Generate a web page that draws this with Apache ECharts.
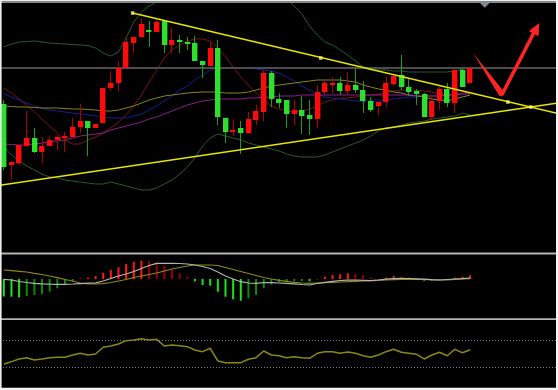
<!DOCTYPE html>
<html><head><meta charset="utf-8">
<script src="https://cdn.jsdelivr.net/npm/echarts/dist/echarts.min.js"></script>
<style>html,body{margin:0;padding:0;background:#fff;}#c{width:558px;height:390px;}</style>
</head><body><div id="c"></div>
<script>
// ---- candle data (arbitrary price units) ----
const openP  = [149,88,90,107,115,101,107,113,115,116,126,132,125,130,165,170,185,210,216,223,221,232,208,213,211,210,192,187,205,135,121,125,120,133,141,180,154,153,139,143,138,134,161,168,170,162,168,163,152,147,151,169,178,166,162,159,136,152,164,150,183,170];
const closeP = [86,91,108,115,101,107,113,116,117,126,132,125,129,165,170,185,211,216,229,221,231,208,213,211,209,192,188,205,136,121,123,120,134,142,180,154,150,139,143,137,134,161,170,170,162,168,163,152,143,151,170,177,166,161,159,136,152,164,150,183,166,185];
const lowP   = [83,73,88,106,100,90,107,103,101,116,120,97,125,130,162,162,185,200,216,206,221,200,200,200,203,192,175,187,128,110,117,99,120,128,132,146,145,125,128,119,118,125,158,160,158,158,160,140,141,138,146,167,163,157,148,136,133,143,146,140,166,170];
const highP  = [153,91,108,142,125,116,116,118,121,135,149,132,129,165,182,192,216,216,235,232,235,232,225,218,216,217,192,211,213,135,134,132,141,148,183,182,160,153,153,157,153,168,173,176,176,181,185,172,156,151,176,179,198,175,164,160,158,166,170,183,185,185];

// ---- overlays on price panel ----
const bbUpper = [206,209,211,211.5,212,211,210,209.5,209,208.5,208,207.5,205,200,197,201,215,231,241,247,251,256,262,268,274,279,283,286,288,288,286,283,279,274,269,264,259,254,247,239,227,218,211,208,203,198,192,186,183,183,183,182,182,181,181,181,181,181,181,182,184,185];
const bbLower = [106,98,92,87,83,79,76,75,73,72,71,70,69,69,71,69,67,65,63,63,65,69,73,79,86,95,107,115,119,117,115,113,110,108,106,104,102,99,97,96,96,96,98,101,104,107,110,113,117,122,125,126,128,130,131,132,134,135,136,137,140,138];
const maRed = [165,160,154,148,141,134,127,120,113,109,109,113,116,120,125,131,138,147,158,171,183,195,203,208,212,214,214,212,205,196,186,176,168,160,153,147,144,142,141,142,144,147,151,153,155,155,156,157,158,159,160,162,163,163,163,162,161,159,158,159,160,161];
const maBlue = [159,156,153,150,147,145,143,142,141,140,139,138,137,136,135,135,135,137,139,143,147,152,157,163,167,173,178,183,185,185,185,185,185,184,183,182,180,176,172,167,163,159,156,155,154,153,152,152,152,152,153,154,155,156,156,157,157,157,158,158,159,160];
const maOlive = [147,146.5,146,146,145.5,145,145,145,144.5,144,144,143.5,143,142,142,143,145,147,150,153,155,157,158,159,160,160.5,161,161,161,160,160,160,161,163,165,167,168,169,170,171,172,173,173,173,173,172,171,168,166,164,163,161,160,158,157,156,154,153,152,154,156,158];
const maPurple = [109,108.5,108,108,109,110,111,112,113,115,117,118,119,120,123,125,127,129,131,134,136,139,142,145,148,150,152,153,154,154,154,154,155,155,156,156,157,157,157,158,158,158,158,158,158,158,158,158,158,158,158,158,158,158,157.5,157,157,157,158,158,159,159];

// ---- drawn annotations: [bar index, price] ----
const trendDown = [[16.85,240],[72.5,139.6]];
const trendUp   = [[-0.5,67.7],[72.5,150.1]];
const trendDots = [[16.85,240],[41.46,195],[65.94,151],[68.93,146]];
const arrowLeft  = [[61.38,200],[65.48,160.7],[65.16,156.5],[64.83,157.3]];
const arrowRight = [[64.95,158.8],[65.36,157.2],[69.53,219.2],[69.11,220.8]];
const arrowHead  = [[70.04,230],[69.96,216.8],[68.68,221.8]];

// ---- MACD ----
const macdHist = [-17.5,-17.7,-18.3,-17,-16,-15,-12.7,-9.3,-5.3,-2.7,0.5,1.3,3,6.3,9,11.7,15,17,18.3,18,16.3,13.3,9,5.7,2.3,-2.3,-6,-6.7,-12.7,-17.7,-20.3,-21.7,-19.3,-16,-9.3,-5.5,-3,-2.7,-2.2,-2,-2.3,-0.5,2.3,4,4.7,5.7,5.3,3.7,1.5,0.3,1.3,3,2.3,1.7,0.5,-1.7,-1.3,-0.7,-1,1.3,2.3,3.7];
const macdDif = [-0.3,-1,-2.5,-3.5,-4.3,-4.8,-5.2,-5.3,-5.3,-5,-4.6,-4.2,-3.8,-2,0.5,3,5,7.5,10.5,13.5,15.7,15.7,15.7,15.5,15,14,12.5,10.5,7,3,0,-2.7,-4,-4.3,-3.5,-3.7,-4,-4.3,-4.8,-5.5,-6,-4.5,-3.3,-2.3,-1.5,-1.2,-1,-1.3,-1.7,-1,-0.2,0.3,0.6,0.5,0.2,-0.2,-0.7,-1,-0.5,0,0.4,1];
const macdDea = [9,8.4,7.7,7,5.7,4.5,3,1.4,-0.5,-2,-4,-5,-5,-4.6,-3.5,-2,-0.5,1.5,3,4.5,6,8,10,11.5,13,14,14,14,13.5,11.5,9.5,7.5,5.5,3.5,1.5,0,-1.3,-2.3,-3.3,-4,-4.3,-4,-3.7,-3.3,-3,-2.7,-2.3,-2,-1.7,-1.3,-1,-0.6,-0.3,-0.2,-0.3,-0.5,-0.8,-1,-0.8,-0.3,0,0.3];

// ---- RSI ----
const rsi = [34.4,37.9,41.9,43.8,40.4,41.9,43.8,44.4,44.4,47.8,50.3,47.8,49.3,59.2,61.1,64.1,69.0,70.0,71.9,70.0,71.0,61.1,62.6,61.6,60.1,55.2,52.7,57.7,38.9,36.4,36.4,36.4,41.4,43.8,53.7,47.8,46.7,43.8,45.3,43.8,42.9,50.3,52.7,52.7,50.3,52.2,50.3,46.7,44.4,47.8,52.7,56.2,51.8,50.3,48.8,41.9,47.8,51.8,46.7,56.2,51.2,55.6];
const rsiLevels = [70, 30];

const chart = echarts.init(document.getElementById('c'));
const idx = a => a.map((v, i) => [i, v]);
const GL = -2.24, GW = 560.64;
const XMIN = -0.5, XMAX = 72.5;

function lineS(data, color, width, g, z) {
  return {type:'line', xAxisIndex:g, yAxisIndex:g, data:idx(data), symbol:'none', silent:true,
    lineStyle:{color:color, width:width}, z:z||2, animation:false};
}

const histData = macdHist.map((v, i) => {
  const prev = i > 0 ? macdHist[i-1] : v;
  let col;
  if (v >= 0) col = v >= prev ? '#ff1a1a' : '#9a0000';
  else col = v <= prev ? '#19e619' : '#0c8a0c';
  return {value:[i, v], itemStyle:{color:col}};
});

const option = {
  backgroundColor:'#000',
  animation:false,
  grid:[
    {left:GL, width:GW, top:3, height:250},
    {left:GL, width:GW, top:256, height:60},
    {left:GL, width:GW, top:319.75, height:67.5}
  ],
  xAxis:[0,1,2].map(g => ({type:'value', gridIndex:g, min:XMIN, max:XMAX, show:false})),
  yAxis:[
    {type:'value', gridIndex:0, min:0, max:250, show:false},
    {type:'value', gridIndex:1, min:-37, max:23, show:false},
    {type:'value', gridIndex:2, min:0, max:100, show:false}
  ],
  series:[
    Object.assign(lineS(maRed, '#7d1414', 1, 0, 2), {
      markLine:{silent:true, symbol:'none', label:{show:false}, animation:false,
        lineStyle:{color:'#4c4c4c', width:2, type:'solid'},
        data:[{yAxis: closeP[closeP.length-1]}]}
    }),
    lineS(bbUpper, '#285a36', 1, 0, 2),
    lineS(bbLower, '#285a36', 1, 0, 2),
    lineS(maBlue, '#1c1c94', 1, 0, 2),
    lineS(maOlive, '#8a8420', 1, 0, 2),
    lineS(maPurple, '#8e1e8e', 1, 0, 2),
    {
      type:'custom', xAxisIndex:0, yAxisIndex:0, clip:true, z:5, silent:true,
      data: openP.map((o, i) => [i, o, closeP[i], lowP[i], highP[i]]),
      encode:{x:0, y:[1,2,3,4]},
      renderItem(params, api) {
        const i = api.value(0), o = api.value(1), c = api.value(2), l = api.value(3), h = api.value(4);
        const pO = api.coord([i, o]), pC = api.coord([i, c]), pL = api.coord([i, l]), pH = api.coord([i, h]);
        const up = c >= o;
        const cx = pO[0];
        const top = Math.min(pO[1], pC[1]);
        const ht = Math.max(1.5, Math.abs(pO[1] - pC[1]));
        const wx = Math.round(cx - 0.5) + 0.5;
        return {type:'group', children:[
          {type:'line', shape:{x1:wx, y1:pH[1], x2:wx, y2:pL[1]}, style:{stroke: up ? '#b00000' : '#18a018', lineWidth:1}},
          {type:'rect', shape:{x:Math.round(cx - 2.7), y:top, width:5.4, height:ht}, style:{fill: up ? '#ff0a0a' : '#2ee02e'}}
        ]};
      }
    },
    {type:'line', xAxisIndex:0, yAxisIndex:0, data:trendDown, symbol:'none', silent:true,
      lineStyle:{color:'#e6e600', width:1.5}, z:6},
    {type:'line', xAxisIndex:0, yAxisIndex:0, data:trendUp, symbol:'none', silent:true,
      lineStyle:{color:'#e6e600', width:1.5}, z:6},
    {type:'scatter', xAxisIndex:0, yAxisIndex:0, data:trendDots, symbol:'rect', symbolSize:3.5, silent:true,
      itemStyle:{color:'#ffff70'}, z:7},
    {
      type:'custom', xAxisIndex:0, yAxisIndex:0, clip:true, z:8, silent:true,
      data:[[0, 0]],
      renderItem(params, api) {
        const poly = pts => ({type:'polygon', shape:{points: pts.map(p => api.coord(p))}, style:{fill:'#ff2424'}});
        return {type:'group', children:[poly(arrowLeft), poly(arrowRight), poly(arrowHead)]};
      }
    },
    {type:'bar', xAxisIndex:1, yAxisIndex:1, data:histData, barWidth:2, silent:true, z:2},
    lineS(macdDif, '#b4b4b4', 1.2, 1, 4),
    lineS(macdDea, '#8c8a14', 1.2, 1, 3),
    Object.assign(lineS(rsi, '#8a8814', 1.5, 2, 3), {
      markLine:{silent:true, symbol:'none', label:{show:false}, animation:false,
        lineStyle:{color:'#777', width:1, type:[1,2]},
        data: rsiLevels.map(v => ({yAxis:v}))}
    })
  ],
  graphic:[
    {type:'rect', z:100, shape:{x:0, y:0, width:558, height:1.5}, style:{fill:'#f0f0f0'}},
    {type:'rect', z:100, shape:{x:0, y:1.5, width:556, height:1.6}, style:{fill:'#8c8c8c'}},
    {type:'rect', z:100, shape:{x:0, y:252.6, width:556, height:1.8}, style:{fill:'#b4b4b4'}},
    {type:'rect', z:100, shape:{x:0, y:318.3, width:556, height:1.8}, style:{fill:'#b4b4b4'}},
    {type:'polygon', z:100, shape:{points:[[480,3],[489.5,3],[484.7,7.8]]}, style:{fill:'#7d8b99'}},
    {type:'rect', z:101, shape:{x:0, y:0, width:1.6, height:390}, style:{fill:'#eeeeee'}},
    {type:'rect', z:101, shape:{x:556, y:0, width:2, height:390}, style:{fill:'#f4f4f4'}},
    {type:'rect', z:101, shape:{x:0, y:387.8, width:558, height:2.2}, style:{fill:'#f4f4f4'}}
  ]
};
chart.setOption(option);
</script>
</body></html>
